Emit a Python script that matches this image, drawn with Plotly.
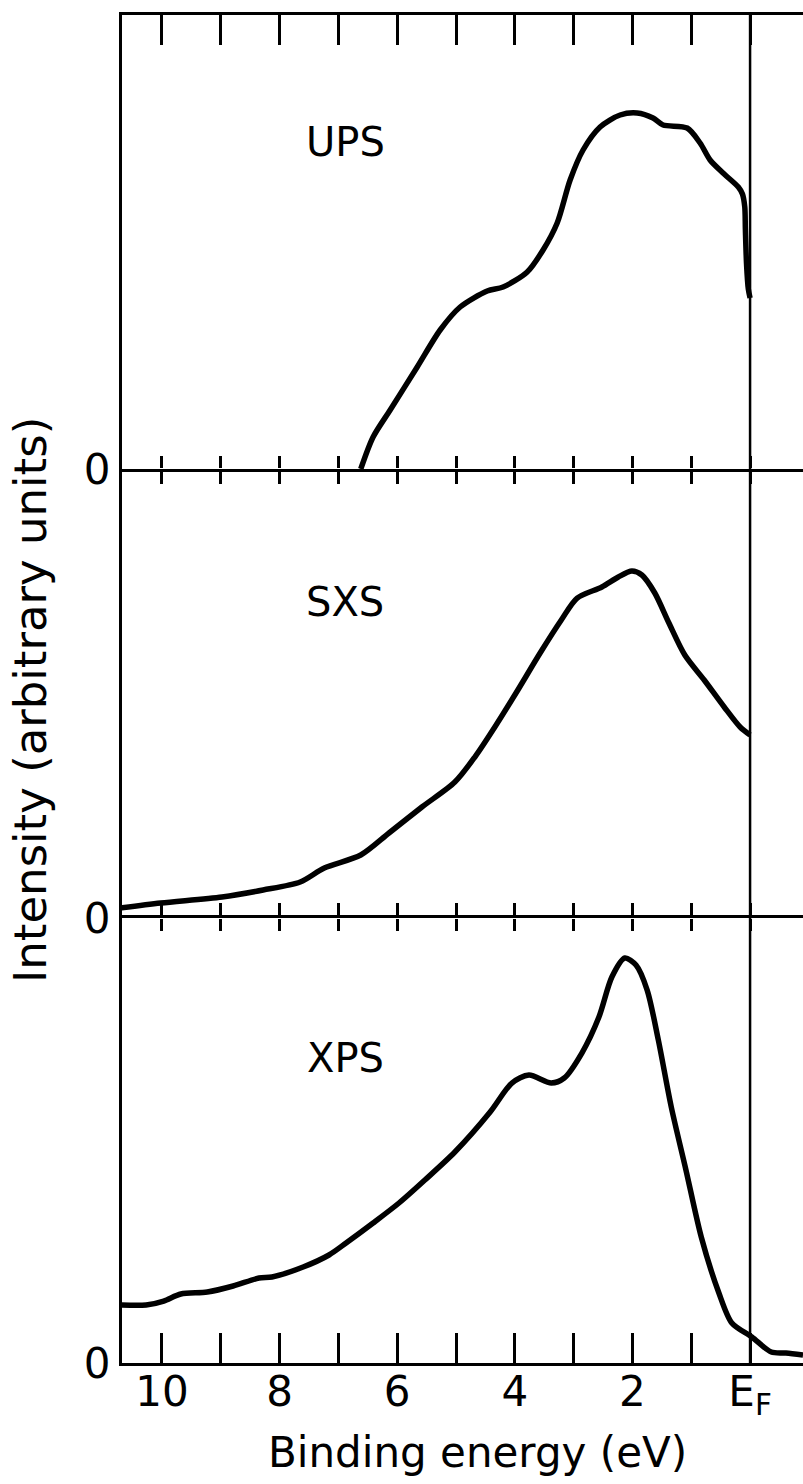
import plotly.graph_objects as go

# ---------------- data (binding energy in eV, intensity in arbitrary units) -------------
ups_energy = [6.62, 6.41, 6.12, 5.66, 5.27, 4.93, 4.47, 4.20, 3.79, 3.52, 3.28, 3.06, 2.84,
              2.55, 2.21, 1.92, 1.65, 1.48, 1.07, 0.85, 0.68, 0.46, 0.20, 0.13, 0.09, 0.08,
              0.06, 0.03, 0.0]
ups_intensity = [0, 32, 59, 102, 139, 162, 178, 182, 197, 219, 246, 289, 319,
                 342, 354, 356, 351, 344, 341, 326, 309, 296, 282, 275, 262, 240,
                 205, 180, 171]

sxs_energy = [10.71, 10.02, 8.98, 8.28, 7.65, 7.24, 6.62, 6.14, 5.58, 5.02, 4.68, 4.34, 3.98,
              3.57, 3.21, 2.94, 2.52, 2.24, 2.01, 1.84, 1.62, 1.38, 1.11, 0.78, 0.44, 0.17, 0.0]
sxs_intensity = [10, 15, 21, 28, 36, 50, 63, 85, 111, 136, 161, 191, 225,
                 265, 298, 320, 331, 341, 347, 343, 325, 295, 263, 238, 211, 191, 183]

xps_energy = [10.71, 10.27, 9.97, 9.68, 9.23, 8.79, 8.35, 8.13, 7.60, 7.16, 6.87, 6.41, 5.97,
              5.53, 5.02, 4.42, 4.05, 3.76, 3.38, 3.16, 2.86, 2.57, 2.35, 2.13, 1.94, 1.75,
              1.56, 1.34, 1.09, 0.83, 0.53, 0.31, -0.03, -0.36, -0.61, -0.90]
xps_intensity = [58, 58, 62, 69, 71, 77, 85, 86, 96, 108, 120, 140, 160,
                 183, 211, 251, 280, 288, 280, 285, 310, 346, 386, 405, 398, 373,
                 323, 256, 193, 126, 70, 40, 26, 11, 10, 8]

panel_labels = ["UPS", "SXS", "XPS"]
tick_values = [0, 1, 2, 3, 4, 5, 6, 7, 8, 9, 10]
label_values = [0, 2, 4, 6, 8, 10]
label_text = ["E<sub>F</sub>", "2", "4", "6", "8", "10"]
x_title = "Binding energy (eV)"
y_title = "Intensity (arbitrary units)"

# ---------------- figure ----------------
FONT = "DejaVu Sans"
W, H = 803, 1484
ML, MT, MB = 122, 15, 121
x_range = [10.68, -0.90]

d3 = [0.0, 0.3301]
d2 = [0.3301, 0.6632]
d1 = [0.6632, 1.0]

line_style = dict(color="black", width=5.5, shape="spline", smoothing=0.8)

fig = go.Figure()
fig.add_trace(go.Scatter(x=ups_energy, y=ups_intensity, mode="lines", line=line_style,
                         xaxis="x", yaxis="y", showlegend=False, hoverinfo="skip"))
fig.add_trace(go.Scatter(x=sxs_energy, y=sxs_intensity, mode="lines", line=line_style,
                         xaxis="x2", yaxis="y2", showlegend=False, hoverinfo="skip"))
fig.add_trace(go.Scatter(x=xps_energy, y=xps_intensity, mode="lines", line=line_style,
                         xaxis="x3", yaxis="y3", showlegend=False, hoverinfo="skip"))
# empty traces so the overlay axes are drawn
fig.add_trace(go.Scatter(x=[], y=[], xaxis="x4", yaxis="y", showlegend=False))
fig.add_trace(go.Scatter(x=[], y=[], xaxis="x5", yaxis="y3", showlegend=False))
fig.add_trace(go.Scatter(x=[], y=[], xaxis="x6", yaxis="y3", showlegend=False))

base_x = dict(range=x_range, showgrid=False, zeroline=False, showline=True,
              linecolor="black", linewidth=3, tickvals=tick_values, tickwidth=3,
              tickcolor="black", showticklabels=False, fixedrange=True)

def yax(domain, top):
    return dict(domain=domain, range=[0, top], showgrid=False, zeroline=False,
                showline=True, linecolor="black", linewidth=3, ticks="",
                tickvals=[0], ticktext=["0"], ticklabelstandoff=0,
                tickfont=dict(family=FONT, size=42, color="black"), fixedrange=True)

fig.update_layout(
    width=W, height=H,
    margin=dict(l=ML, r=0, t=MT, b=MB, pad=0),
    paper_bgcolor="white", plot_bgcolor="white",
    font=dict(family=FONT, color="black"),
    xaxis=dict(base_x, anchor="y", ticks="outside", ticklen=12),
    xaxis2=dict(base_x, anchor="y2", ticks="outside", ticklen=12, mirror="ticks",
                showline=False),
    xaxis3=dict(base_x, anchor="y3", ticks="inside", ticklen=30),
    xaxis4=dict(base_x, anchor="y", overlaying="x", side="top", ticks="inside", ticklen=30),
    xaxis5=dict(base_x, anchor="y3", overlaying="x3", side="top", ticks="outside",
                ticklen=12),
    xaxis6=dict(base_x, anchor="y3", overlaying="x3", side="bottom", ticks="inside",
                ticklen=30, tickwidth=0, tickcolor="rgba(0,0,0,0)", showline=False,
                tickvals=label_values, ticktext=label_text, showticklabels=True,
                ticklabelstandoff=0,
                tickfont=dict(family=FONT, size=42, color="black")),
    yaxis=yax(d1, 454),
    yaxis2=yax(d2, 449),
    yaxis3=yax(d3, 445),
)

# Fermi level vertical line
fig.add_shape(type="line", xref="x", yref="paper", x0=0, x1=0, y0=0, y1=1,
              line=dict(color="black", width=2.5))

# panel labels
label_pos = [("x", "y", 327), ("x2", "y2", 316), ("x3", "y3", 305)]
for text, (xr, yr, yv) in zip(panel_labels, label_pos):
    fig.add_annotation(text=text, xref=xr, yref=yr, x=(750 - 345) / 58.8, y=yv,
                       showarrow=False, font=dict(family=FONT, size=40, color="black"),
                       xanchor="center", yanchor="middle")

# axis titles
fig.add_annotation(text=x_title, xref="paper", yref="paper",
                   x=(477 - ML) / (W - ML), y=(1363 - 1452) / (1363 - MT),
                   showarrow=False, xanchor="center", yanchor="middle",
                   font=dict(family=FONT, size=42, color="black"))
fig.add_annotation(text=y_title, xref="paper", yref="paper",
                   x=(31 - ML) / (W - ML), y=(1363 - 700) / (1363 - MT),
                   showarrow=False, xanchor="center", yanchor="middle", textangle=-90,
                   font=dict(family=FONT, size=45, color="black"))

fig.write_html("out.html")
